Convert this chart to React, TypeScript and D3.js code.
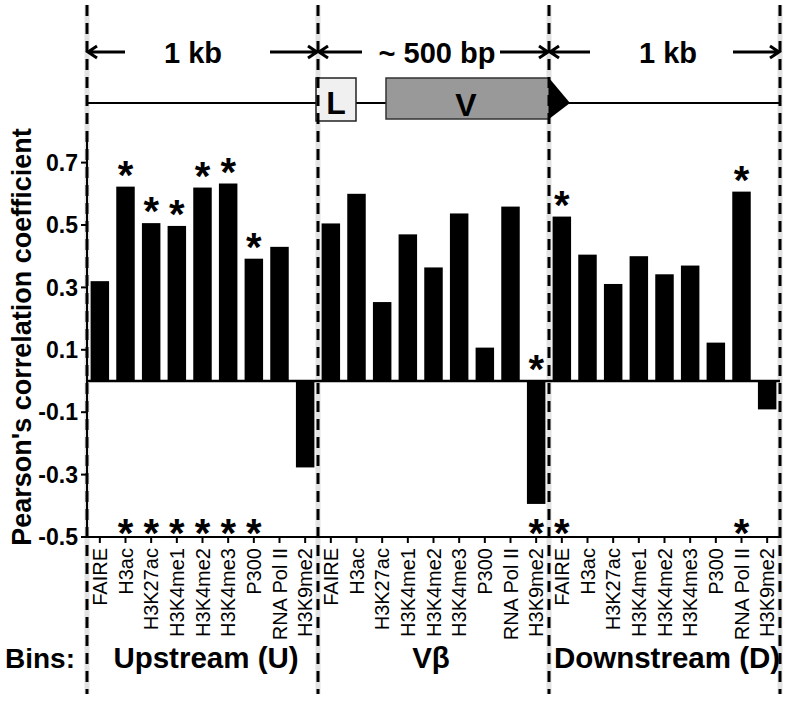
import React from "react";
import * as d3 from "d3";

const categories = ["FAIRE", "H3ac", "H3K27ac", "H3K4me1", "H3K4me2", "H3K4me3", "P300", "RNA Pol II", "H3K9me2"];
const groups = ["Upstream (U)", "Vβ", "Downstream (D)"];
const upstream = [0.32, 0.623, 0.506, 0.497, 0.62, 0.633, 0.392, 0.43, -0.277];
const vbeta = [0.505, 0.6, 0.253, 0.47, 0.364, 0.537, 0.107, 0.559, -0.394];
const downstream = [0.527, 0.405, 0.311, 0.4, 0.342, 0.37, 0.123, 0.607, -0.091];
const sigUpstream = [0, 1, 1, 1, 1, 1, 1, 0, 0];
const sigVbeta = [0, 0, 0, 0, 0, 0, 0, 0, 1];
const sigDownstream = [1, 0, 0, 0, 0, 0, 0, 1, 0];
const yTicks = [0.7, 0.5, 0.3, 0.1, -0.1, -0.3, -0.5];
const spanLabels = ["1 kb", "~ 500 bp", "1 kb"];

const FONT = "Arial, 'Liberation Sans', Helvetica, sans-serif";

export default function App() {
  const W = 802, H = 702;
  const series = [upstream, vbeta, downstream];
  const sigs = [sigUpstream, sigVbeta, sigDownstream];
  const data = series.flatMap((vals, g) =>
    vals.map((v, i) => ({ key: `${g}-${i}`, g, i, name: categories[i], value: v, sig: sigs[g][i] }))
  );
  const x = d3.scaleBand<string>().domain(data.map((d) => d.key)).range([87, 780]).paddingInner(0.28).paddingOuter(0.14);
  const y = d3.scaleLinear().domain([-0.5, 0.8]).range([537, 131.4]);
  const step = x.step();
  const groupEdges = [0, 1, 2, 3].map((k) => 87 + k * 9 * step);
  const bw = x.bandwidth();
  const y0 = y(0);
  const yBottom = y(-0.5);

  const arrowR = (x1: number, x2: number, yy: number) => `M${x1},${yy}H${x2}M${x2 - 9},${yy - 6}L${x2},${yy}L${x2 - 9},${yy + 6}`;
  const arrowL = (x1: number, x2: number, yy: number) => `M${x2},${yy}H${x1}M${x1 + 9},${yy - 6}L${x1},${yy}L${x1 + 9},${yy + 6}`;
  const ay = 52;
  const lineY = 103;
  const starSize = 40;

  return (
    <svg width={W} height={H} style={{ position: "absolute", left: 0, top: 0, background: "#fff" }} fontFamily={FONT}>
      <rect x={0} y={0} width={W} height={H} fill="#fff" />
      {groupEdges.map((gx, k) => (
        <line key={`g${k}`} x1={gx} x2={gx} y1={5} y2={694} stroke="#e2e2e2" strokeWidth={5} />
      ))}
      {/* gene diagram */}
      <line x1={groupEdges[0]} x2={groupEdges[3]} y1={lineY} y2={lineY} stroke="#000" strokeWidth={2} />
      <rect x={316} y={78} width={40} height={43} fill="#f0f0f0" stroke="#222" strokeWidth={1.5} />
      <text x={336} y={114} textAnchor="middle" fontSize={32} fontWeight="bold">L</text>
      <rect x={386} y={78} width={groupEdges[2] - 386} height={41} fill="#999999" stroke="#333" strokeWidth={1.5} />
      <path d={`M${groupEdges[2]},78L${groupEdges[2] + 21},${lineY}L${groupEdges[2]},119Z`} fill="#000" />
      <text x={466} y={116} textAnchor="middle" fontSize={32} fontWeight="bold">V</text>
      <g stroke="#000" strokeWidth={3} fill="none">
        <path d={arrowL(groupEdges[0] + 1, 125, ay)} />
        <path d={arrowR(270, groupEdges[1] - 1, ay)} />
        <path d={arrowL(groupEdges[1] + 1, 362, ay)} />
        <path d={arrowR(500, groupEdges[2] - 1, ay)} />
        <path d={arrowL(groupEdges[2] + 1, 590, ay)} />
        <path d={arrowR(733, groupEdges[3] - 1, ay)} />
      </g>
      <text x={193} y={63} textAnchor="middle" fontSize={29} fontWeight="bold">{spanLabels[0]}</text>
      <text x={437} y={63} textAnchor="middle" fontSize={29} fontWeight="bold">{spanLabels[1]}</text>
      <text x={668} y={63} textAnchor="middle" fontSize={29} fontWeight="bold">{spanLabels[2]}</text>

      {data.map((d) => (
        <rect key={d.key} x={x(d.key)!} width={bw} y={Math.min(y(d.value), y0)} height={Math.abs(y(d.value) - y0)} fill="#000" />
      ))}
      {groupEdges.map((gx, k) => (
        <line key={`d${k}`} x1={gx} x2={gx} y1={5} y2={694} stroke="#000" strokeWidth={3} strokeDasharray="11 7" />
      ))}
      <line x1={87} x2={87} y1={y(0.8)} y2={yBottom} stroke="#000" strokeWidth={2} />
      <line x1={87} x2={780} y1={y0} y2={y0} stroke="#000" strokeWidth={2.5} />
      <line x1={87} x2={780} y1={yBottom} y2={yBottom} stroke="#000" strokeWidth={2} />
      {yTicks.map((t) => (
        <g key={`yt${t}`}>
          <line x1={81} x2={87} y1={y(t)} y2={y(t)} stroke="#000" strokeWidth={2} />
          <text x={78} y={y(t)} dy="0.36em" textAnchor="end" fontSize={23} fontWeight="bold">{t.toFixed(1)}</text>
        </g>
      ))}
      {data.map((d) => {
        const cx = x(d.key)! + bw / 2;
        return (
          <g key={`xt${d.key}`}>
            <line x1={cx} x2={cx} y1={yBottom} y2={yBottom + 6} stroke="#000" strokeWidth={2} />
            <text transform={`translate(${cx},548) rotate(-90)`} dy="0.36em" textAnchor="end" fontSize={20}>{d.name}</text>
          </g>
        );
      })}
      {data.filter((d) => d.sig).map((d) => {
        const cx = x(d.key)! + bw / 2;
        const top = Math.min(y(d.value), y0);
        return (
          <g key={`s${d.key}`}>
            <text x={cx} y={top + 2} textAnchor="middle" fontSize={starSize} fontWeight="bold">*</text>
            <text x={cx} y={yBottom + 10} textAnchor="middle" fontSize={starSize} fontWeight="bold">*</text>
          </g>
        );
      })}
      <text transform={`translate(31,337) rotate(-90)`} textAnchor="middle" fontSize={27} fontWeight="bold">Pearson's correlation coefficient</text>
      <text x={5} y={668} fontSize={28} fontWeight="bold">Bins:</text>
      {groups.map((gname, k) => (
        <text key={gname} x={k === 0 ? 206 : k === 1 ? 431 : 667} y={668} textAnchor="middle" fontSize={29.5} fontWeight="bold">{gname}</text>
      ))}
    </svg>
  );
}
